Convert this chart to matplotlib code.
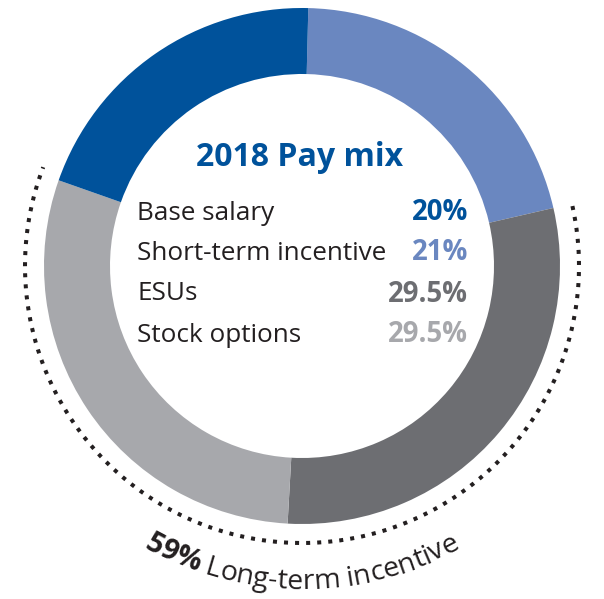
import numpy as np
import matplotlib
matplotlib.use('Agg')
import matplotlib.pyplot as plt
from matplotlib.font_manager import FontProperties

plt.rcParams['font.family'] = ['Open Sans', 'DejaVu Sans']

# data
labels = ['Base salary', 'Short-term incentive', 'ESUs', 'Stock options']
shares = [20, 21, 29.5, 29.5]
share_text = ['20%', '21%', '29.5%', '29.5%']
colors = ['#00529B', '#6A87C0', '#6D6E72', '#A7A8AC']
title = '2018 Pay mix'
lti_share = '59%'
lti_label = 'Long-term incentive'

W, H = 604, 599
fig = plt.figure(figsize=(W / 100, H / 100), dpi=100)
ax = fig.add_axes([0, 0, 1, 1])

cx, cy = 302, H - 266
R, ring = 258, 66
start_angle = 88.6

# ring: clockwise from top is short-term, ESUs, options, base
order = [1, 2, 3, 0]
ax.pie([shares[i] for i in order], colors=[colors[i] for i in order],
       startangle=start_angle, counterclock=False, radius=R, center=(cx, cy),
       wedgeprops=dict(width=ring, linewidth=0), frame=True)
ax.set_xlim(0, W)
ax.set_ylim(0, H)
ax.set_aspect('equal')
ax.axis('off')

# centre text
ax.text(cx - 2, H - 158, title, ha='center', va='center', fontsize=23,
        fontweight='bold', color=colors[0])
row_y = [213, 253, 294, 335]
for lab, txt, col, y in zip(labels, share_text, colors, row_y):
    ax.text(137, H - y, lab, ha='left', va='center', fontsize=18.8, color='#231F20')
    ax.text(468, H - y, txt, ha='right', va='center', fontsize=19.8,
            fontweight='bold', color=col)

# dotted bracket round the long-term part
start = start_angle - 360 * shares[1] / 100
span = 360 * (shares[2] + shares[3]) / 100
a = np.radians(np.linspace(start - 0.5, start - span - 1.5, 400))
Rd = 277
ax.plot(cx + Rd * np.cos(a), cy + Rd * np.sin(a), color='#231F20', lw=2.9,
        linestyle=(0, (1, 1.75)), dash_capstyle='butt')

# curved label along the bottom
renderer = fig.canvas.get_renderer()
fs = 20.5
fp_b = FontProperties(family='Open Sans', weight='bold', size=fs)
fp_r = FontProperties(family='Open Sans', size=fs)
chars = [(c, fp_b) for c in lti_share] + [(c, fp_r) for c in ' ' + lti_label]


def width(s, fp):
    if not s:
        return 0.0
    return renderer.get_text_width_height_descent(s, fp, ismath=False)[0]


widths = []
prefix_b = ''
prefix_r = ''
for c, fp in chars:
    if fp is fp_b:
        w = width(prefix_b + c, fp) - width(prefix_b, fp)
        prefix_b += c
    else:
        w = width(prefix_r + c, fp) - width(prefix_r, fp)
        prefix_r += c
    widths.append(w)
total = sum(widths)
Rt = 323
pos = -total / 2
for (c, fp), w in zip(chars, widths):
    mid = pos + w / 2
    th = -np.pi / 2 + mid / Rt
    ax.text(cx + Rt * np.cos(th), cy + Rt * np.sin(th), c, fontproperties=fp,
            color='#231F20', ha='center', va='baseline',
            rotation=np.degrees(th) + 90, rotation_mode='anchor')
    pos += w

fig.savefig('out.png', dpi=100)
